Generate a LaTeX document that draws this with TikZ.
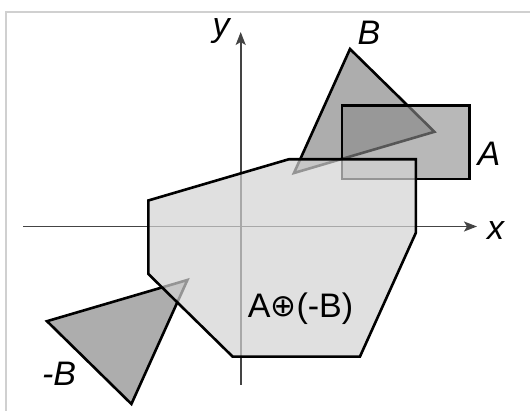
\documentclass[tikz,border=0pt]{standalone}
\usepackage{fontspec}
\setmainfont{Liberation Sans}
\newfontfamily\symfont{DejaVu Sans}
\usetikzlibrary{arrows.meta}
\definecolor{frameC}{HTML}{D0D0D0}
\definecolor{axisC}{HTML}{444444}
\definecolor{triC}{HTML}{ADADAD}
\definecolor{rectC}{HTML}{8C8C8C}
\definecolor{sumC}{HTML}{D3D3D3}

\begin{document}
\begin{tikzpicture}[
  x=1pt, y=-1pt,
  every node/.style={font=\fontsize{34}{37}\selectfont, inner sep=0pt},
  axislabel/.style={anchor=base, font=\fontsize{34}{37}\selectfont\itshape},
  axisline/.style={-{Stealth[length=13pt,width=10pt,inset=3pt]}, axisC, line width=1.6pt},
  shapeline/.style={draw=black, line width=2.6pt, line join=miter},
  triface/.style={shapeline, fill=triC},
  rectface/.style={shapeline, fill=rectC, fill opacity=0.62, draw opacity=1},
  sumface/.style={shapeline, fill=sumC, fill opacity=0.7},
]
\useasboundingbox (0,0) rectangle (530,411);

% ── frame ──
\draw[frameC, line width=2pt] (6,411) -- (6,12) -- (530,12);

% ── axes ──
\coordinate (O) at (240.7,226.5);
\coordinate (xs) at (23,226.5);
\coordinate (xe) at (477,226.5);
\coordinate (ys) at (240.7,385);
\coordinate (ye) at (240.7,32);
\draw[axisline] (xs) -- (xe);
\draw[axisline] (ys) -- (ye);

% ── -B ──
\coordinate (nb1) at (131.4,404);
\coordinate (nb2) at (47,321.2);
\coordinate (nb3) at (187.4,280);
\draw[triface] (nb1) -- (nb2) -- (nb3) -- cycle;

% ── B ──
\coordinate (b1) at (350,49);
\coordinate (b2) at (434.4,131.8);
\coordinate (b3) at (294,173);
\draw[triface] (b1) -- (b2) -- (b3) -- cycle;

% ── A ──
\coordinate (a1) at (342,105.8);
\coordinate (a2) at (469.2,179.2);
\draw[rectface] (a1) rectangle (a2);

% ── A (+) (-B) ──
\coordinate (s1) at (288.7,159.3);
\coordinate (s2) at (415.9,159.3);
\coordinate (s3) at (415.9,232.7);
\coordinate (s4) at (359.9,356.7);
\coordinate (s5) at (232.7,356.7);
\coordinate (s6) at (148.3,273.9);
\coordinate (s7) at (148.3,200.5);
\draw[sumface] (s1) -- (s2) -- (s3) -- (s4) -- (s5) -- (s6) -- (s7) -- cycle;

% ── labels ──
\node[axislabel] (ylab) at (221,37) {y};
\node[axislabel] (xlab) at (495.5,240) {x};
\node[axislabel] (blab) at (369,45) {B};
\node[axislabel] (alab) at (489,166) {A};
\node[axislabel] (nblab) at (59,385) {-B};
\node[anchor=base] (sumlab) at (300.5,318) {A{\symfont\fontsize{31}{34}\selectfont\raisebox{1pt}{⊕}}(-B)};

\end{tikzpicture}
\end{document}
